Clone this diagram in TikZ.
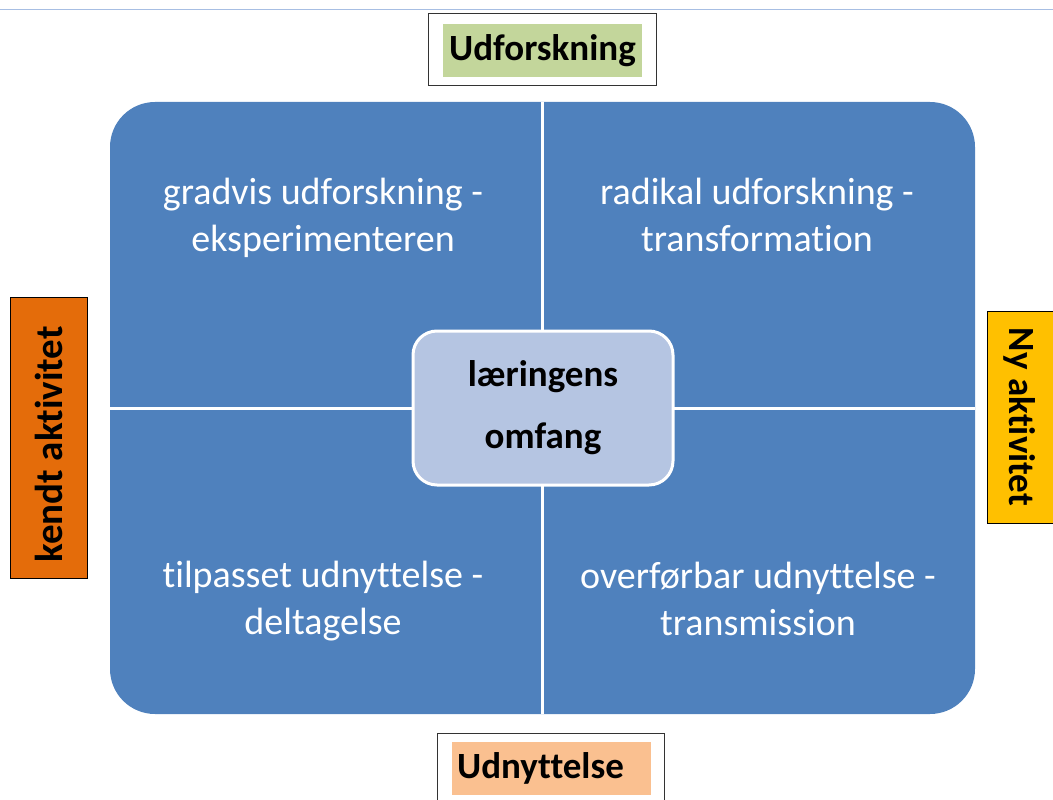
\documentclass[tikz,border=0pt]{standalone}
\usepackage{fontspec}
\setmainfont{Carlito}[Ligatures={NoCommon}]
\definecolor{qblue}{HTML}{4F81BD}
\definecolor{cblue}{HTML}{B5C5E2}
\definecolor{topline}{HTML}{A7BEE3}
\definecolor{lorange}{HTML}{E46C0A}
\definecolor{ryellow}{HTML}{FFC000}
\definecolor{tgreen}{HTML}{C3D69B}
\definecolor{bpeach}{HTML}{FAC090}
\begin{document}
\begin{tikzpicture}[x=1pt,y=-1pt,
  qtext/.style={text=white,font=\fontsize{38}{47}\selectfont,align=center,inner sep=0pt},
  sidebox/.style={draw=black,line width=1pt,inner sep=0pt},
  labelbox/.style={draw=black!80,line width=1pt,fill=white},
  divider/.style={white,line width=3pt}]
\useasboundingbox (0,0) rectangle (1053,800);
\draw[topline,line width=1.2pt] (0,9.5) -- (1053,9.5);
% quadrant block
\fill[qblue,rounded corners=45pt] (110,102) rectangle (975,714);
\draw[divider] (542,102) -- (542,714);
\draw[divider] (110,408) -- (975,408);
\node[qtext] (q1) at (323,218) {gradvis udforskning -\\eksperimenteren};
\node[qtext] (q2) at (757,215) {radikal udforskning -\\transformation};
\node[qtext] (q3) at (323,601) {tilpasset udnyttelse -\\deltagelse};
\node[qtext] (q4) at (758,599) {overførbar udnyttelse -\\transmission};
% center
\node[fill=cblue,draw=white,line width=3pt,rounded corners=24pt,minimum width=260pt,minimum height=154pt,
  align=center,font=\bfseries\fontsize{37}{62}\selectfont] (c) at (543,408) {læringens\\omfang};
% top label
\node[labelbox,minimum width=228pt,minimum height=72pt] (tb) at (542,50) {};
\node[fill=tgreen,minimum width=199pt,minimum height=53pt,inner sep=0pt,font=\bfseries\fontsize{37}{40}\selectfont] (t) at (542.5,50.5) {Udforskning};
% bottom label
\draw[draw=black!80,line width=1pt,fill=white] (437,812) -- (437,733) -- (664,733) -- (664,812);
\coordinate (bc) at (551.5,768.5);
\node[fill=bpeach,minimum width=199pt,minimum height=53pt,inner sep=0pt,font=\bfseries\fontsize{37}{40}\selectfont] (b) at (bc) {\hspace*{-22pt}Udnyttelse};
% side labels
\node[sidebox,fill=lorange,rotate=90,minimum width=281pt,minimum height=77pt,font=\bfseries\fontsize{39}{44}\selectfont] (l) at (48.5,437.5) {kendt aktivitet\hspace*{14pt}};
\node[sidebox,fill=ryellow,rotate=-90,minimum width=212pt,minimum height=66pt,font=\bfseries\fontsize{37}{44}\selectfont] (r) at (1020,417) {Ny aktivitet};
\end{tikzpicture}
\end{document}
